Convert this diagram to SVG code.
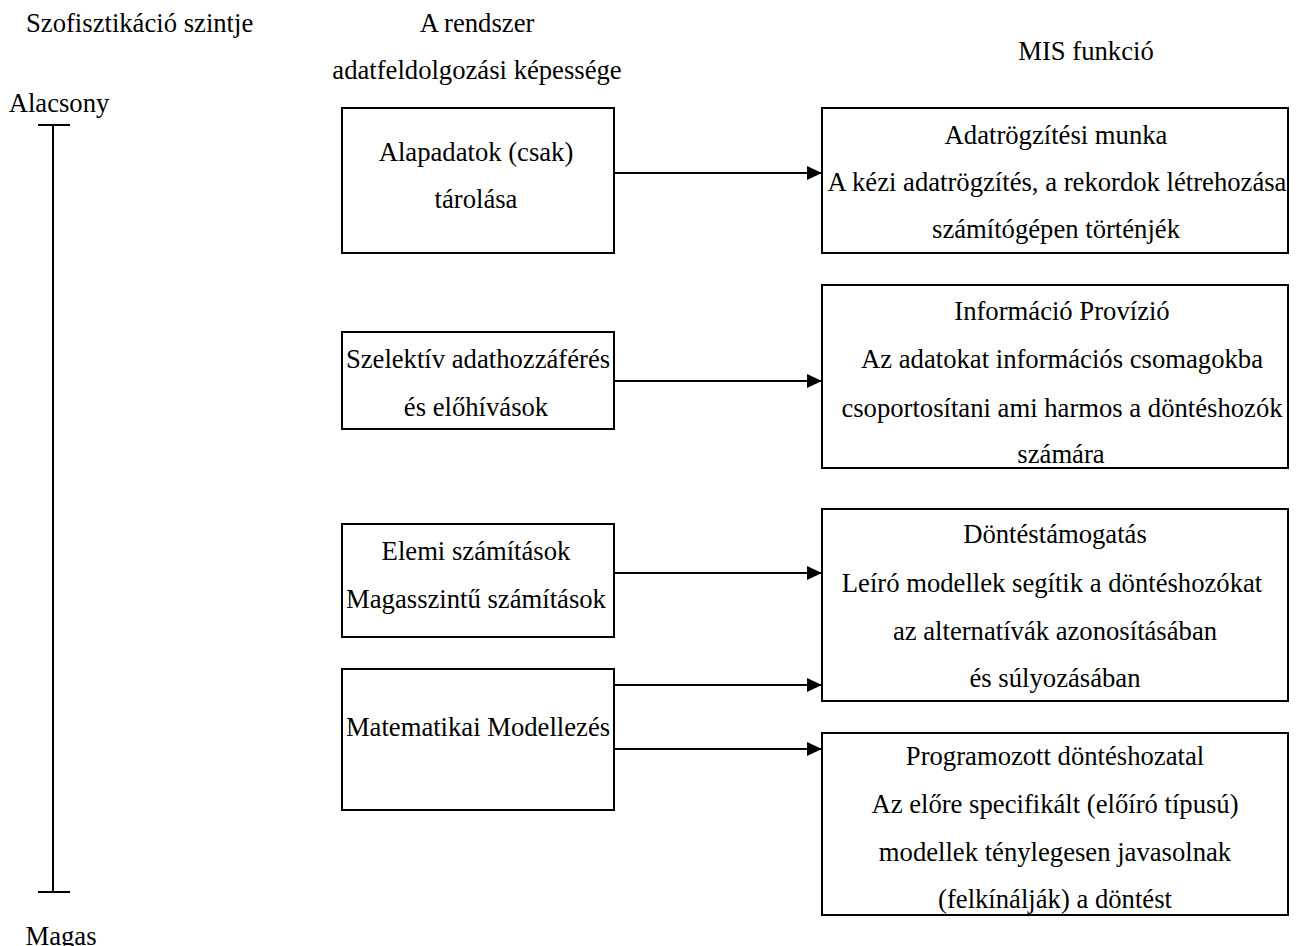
<svg xmlns="http://www.w3.org/2000/svg" width="1296" height="946" viewBox="0 0 1296 946">
  <style>
    text { font-family: "Liberation Serif", "Times New Roman", serif; font-size: 26.67px; fill: #000; }
    .c { text-anchor: middle; }
    .box { fill: #fff; stroke: #000; stroke-width: 2; }
    .line { stroke: #000; stroke-width: 2; fill: none; }
  </style>
  <defs>
    <marker id="arrow" markerUnits="userSpaceOnUse" markerWidth="16" markerHeight="16" refX="15" refY="7" orient="auto">
      <path d="M0,0 L15,7 L0,14 Z" fill="#000"/>
    </marker>
  </defs>

  <rect width="1296" height="946" fill="#fff"/>

  <!-- column headings -->
  <g id="headings">
    <text x="26" y="32">Szofisztikáció szintje</text>
    <text class="c" x="477" y="32">A rendszer</text>
    <text class="c" x="477" y="79">adatfeldolgozási képessége</text>
    <text class="c" x="1086" y="60">MIS funkció</text>
  </g>

  <!-- sophistication scale -->
  <g id="scale">
    <text class="c" x="59" y="112">Alacsony</text>
    <line class="line" x1="53" y1="125" x2="53" y2="892"/>
    <line class="line" x1="38" y1="125" x2="70" y2="125"/>
    <line class="line" x1="38" y1="892" x2="70" y2="892"/>
    <text class="c" x="61" y="945">Magas</text>
  </g>

  <!-- processing capability -->
  <g id="cap-storage">
    <rect class="box" x="342" y="108" width="272" height="145"/>
    <text class="c" x="476" y="161">Alapadatok (csak)</text>
    <text class="c" x="476" y="208">tárolása</text>
  </g>
  <g id="cap-retrieval">
    <rect class="box" x="342" y="332" width="272" height="97"/>
    <text class="c" x="478" y="368">Szelektív adathozzáférés</text>
    <text class="c" x="476" y="416">és előhívások</text>
  </g>
  <g id="cap-computation">
    <rect class="box" x="342" y="524" width="272" height="113"/>
    <text class="c" x="476" y="560">Elemi számítások</text>
    <text class="c" x="476" y="608">Magasszintű számítások</text>
  </g>
  <g id="cap-modelling">
    <rect class="box" x="342" y="669" width="272" height="141"/>
    <text class="c" x="478" y="736">Matematikai Modellezés</text>
  </g>

  <!-- MIS functions -->
  <g id="mis-recording">
    <rect class="box" x="822" y="108" width="466" height="145"/>
    <text class="c" x="1056" y="144">Adatrögzítési munka</text>
    <text class="c" x="1057" y="191">A kézi adatrögzítés, a rekordok létrehozása</text>
    <text class="c" x="1056" y="238">számítógépen történjék</text>
  </g>
  <g id="mis-information">
    <rect class="box" x="822" y="285" width="466" height="183"/>
    <text class="c" x="1062" y="320">Információ Provízió</text>
    <text class="c" x="1062" y="368">Az adatokat információs csomagokba</text>
    <text class="c" x="1062" y="417">csoportosítani ami harmos a döntéshozók</text>
    <text class="c" x="1061" y="463">számára</text>
  </g>
  <g id="mis-support">
    <rect class="box" x="822" y="509" width="466" height="192"/>
    <text class="c" x="1055" y="543">Döntéstámogatás</text>
    <text class="c" x="1052" y="592">Leíró modellek segítik a döntéshozókat</text>
    <text class="c" x="1055" y="640">az alternatívák azonosításában</text>
    <text class="c" x="1055" y="687">és súlyozásában</text>
  </g>
  <g id="mis-programmed">
    <rect class="box" x="822" y="733" width="466" height="182"/>
    <text class="c" x="1055" y="765">Programozott döntéshozatal</text>
    <text class="c" x="1055" y="813">Az előre specifikált (előíró típusú)</text>
    <text class="c" x="1055" y="861">modellek ténylegesen javasolnak</text>
    <text class="c" x="1055" y="908">(felkínálják) a döntést</text>
  </g>

  <!-- connectors -->
  <g id="connectors">
    <line class="line" x1="614" y1="173" x2="822" y2="173" marker-end="url(#arrow)"/>
    <line class="line" x1="614" y1="381" x2="822" y2="381" marker-end="url(#arrow)"/>
    <line class="line" x1="614" y1="573" x2="822" y2="573" marker-end="url(#arrow)"/>
    <line class="line" x1="614" y1="685" x2="822" y2="685" marker-end="url(#arrow)"/>
    <line class="line" x1="614" y1="749" x2="822" y2="749" marker-end="url(#arrow)"/>
  </g>
</svg>
